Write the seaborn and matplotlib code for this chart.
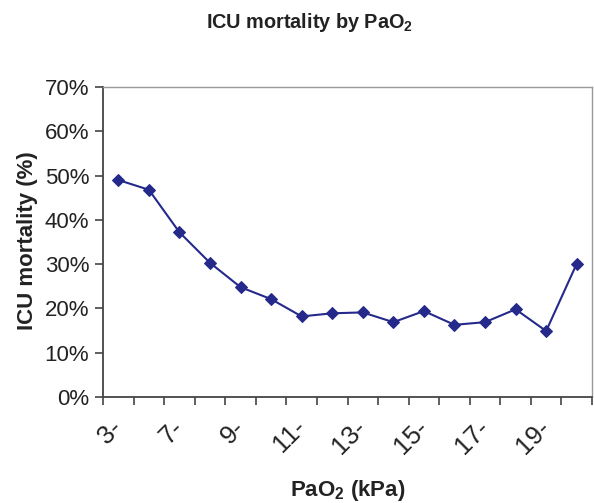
import numpy as np
import pandas as pd
import matplotlib
matplotlib.use("Agg")
import matplotlib.pyplot as plt
import seaborn as sns
from matplotlib.ticker import FixedLocator, PercentFormatter

categories = ["3-", "6-", "7-", "8-", "9-", "10-", "11-", "12-", "13-", "14-",
              "15-", "16-", "17-", "18-", "19-", "20-"]
mortality = [49.0, 46.8, 37.2, 30.3, 24.8, 22.1, 18.2, 18.9, 19.1, 16.9,
             19.4, 16.3, 16.9, 19.8, 14.9, 30.1]
shown_labels = ["3-", "7-", "9-", "11-", "13-", "15-", "17-", "19-"]

sns.set_style("white")
plt.rcParams['font.family'] = ['Liberation Sans', 'DejaVu Sans']
plt.rcParams['mathtext.default'] = 'regular'

df = pd.DataFrame({"PaO2": categories, "mortality": mortality})

fig = plt.figure(figsize=(5.94, 5.03), dpi=100)
ax = fig.add_axes([103/594, 1-397/503, (592-103)/594, (397-87)/503])

sns.lineplot(data=df, x="PaO2", y="mortality", sort=False, ax=ax,
             color="#25298a", linewidth=1.5, marker="D", markersize=6.5,
             markeredgecolor="#25298a")

n = len(categories)
ax.set_xlim(-0.5, n - 0.5)
ax.set_ylim(0, 70)
ax.yaxis.set_major_locator(FixedLocator(np.arange(0, 71, 10)))
ax.yaxis.set_major_formatter(PercentFormatter(decimals=0))

pos = [categories.index(l) for l in shown_labels]
ax.set_xticks(pos)
ax.set_xticklabels(shown_labels, rotation=45, ha="right", va="center",
                   rotation_mode="anchor")
ax.xaxis.set_minor_locator(FixedLocator(np.arange(-0.5, n, 1)))
ax.tick_params(axis="x", which="major", length=0, pad=19, labelsize=18.5, colors="#222222")
ax.tick_params(axis="x", which="minor", length=6, width=1.2, color="#444444", bottom=True)
ax.tick_params(axis="y", which="major", length=6, width=1.2, color="#444444", pad=4,
               labelsize=16, left=True, labelcolor="#222222")

for side in ["left", "bottom"]:
    ax.spines[side].set_color("#444444")
    ax.spines[side].set_linewidth(1.3)
for side in ["top", "right"]:
    ax.spines[side].set_visible(True)
    ax.spines[side].set_color("#999999")
    ax.spines[side].set_linewidth(1.0)

ax.set_xlabel("PaO$_2$ (kPa)", fontsize=16, fontweight="bold", color="#222222")
ax.xaxis.set_label_coords(0.5, -0.262)
ax.set_ylabel("ICU mortality (%)", fontsize=16, fontweight="bold", color="#222222")
ax.yaxis.set_label_coords(-0.133, 0.506)
fig.text(310/594, 1-22/503, "ICU mortality by PaO$_2$", ha="center", va="center",
         fontsize=14.3, fontweight="bold", color="#222222")

fig.savefig("out.png", dpi=100)
